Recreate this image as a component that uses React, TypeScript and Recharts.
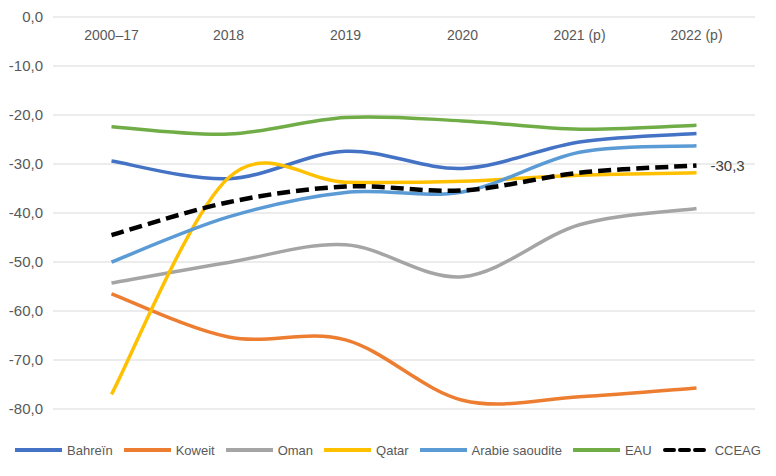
import React from 'react';
import { LineChart, Line, XAxis, YAxis, CartesianGrid, Legend, LabelList } from 'recharts';

const categories = ['2000–17', '2018', '2019', '2020', '2021 (p)', '2022 (p)'];
const bahrein = [-29.4, -33.0, -27.4, -30.9, -25.5, -23.8];
const koweit = [-56.5, -65.3, -65.9, -78.2, -77.5, -75.7];
const oman = [-54.3, -50.1, -46.5, -53.0, -42.4, -39.1];
const qatar = [-77.0, -32.8, -33.7, -33.5, -32.3, -31.8];
const arabie = [-50.0, -40.8, -35.8, -35.7, -27.6, -26.3];
const eau = [-22.4, -23.9, -20.5, -21.2, -22.9, -22.1];
const cceag = [-44.5, -37.8, -34.6, -35.4, -31.8, -30.3];
const yTicks = [0, -10, -20, -30, -40, -50, -60, -70, -80];

const seriesList = [
  { key: 'Bahreïn', values: bahrein, color: '#4472C4' },
  { key: 'Koweit', values: koweit, color: '#ED7D31' },
  { key: 'Oman', values: oman, color: '#A5A5A5' },
  { key: 'Qatar', values: qatar, color: '#FFC000' },
  { key: 'Arabie saoudite', values: arabie, color: '#5B9BD5' },
  { key: 'EAU', values: eau, color: '#70AD47' },
  { key: 'CCEAG', values: cceag, color: '#000000', dashed: true },
];

const data = categories.map((cat, i) => {
  const row: any = { cat };
  seriesList.forEach((s) => {
    row[s.key] = s.values[i];
  });
  return row;
});

const FONT = '"Liberation Sans", Arial, sans-serif';
const fmt = (v: number) => v.toFixed(1).replace('.', ',');

// Excel-like smoothed line (Catmull-Rom as cubic Bezier)
const excelCurve: any = (context: any) => {
  let pts: number[][] = [];
  return {
    areaStart() {},
    areaEnd() {},
    lineStart() {
      pts = [];
    },
    point(x: number, y: number) {
      pts.push([+x, +y]);
    },
    lineEnd() {
      const n = pts.length;
      if (!n) return;
      context.moveTo(pts[0][0], pts[0][1]);
      for (let i = 0; i < n - 1; i++) {
        const p0 = pts[Math.max(i - 1, 0)];
        const p1 = pts[i];
        const p2 = pts[i + 1];
        const p3 = pts[Math.min(i + 2, n - 1)];
        context.bezierCurveTo(
          p1[0] + (p2[0] - p0[0]) / 6,
          p1[1] + (p2[1] - p0[1]) / 6,
          p2[0] - (p3[0] - p1[0]) / 6,
          p2[1] - (p3[1] - p1[1]) / 6,
          p2[0],
          p2[1]
        );
      }
    },
  };
};

const XTick = (props: any) => {
  const { x, payload } = props;
  return (
    <text x={x} y={27} textAnchor="middle" dominantBaseline="central" fontSize={14} fill="#595959" fontFamily={FONT}>
      {payload.value}
    </text>
  );
};

const EndLabel = (props: any) => {
  const { x, y, value, index } = props;
  if (index !== cceag.length - 1) return null;
  return (
    <text x={x + 14} y={y} dominantBaseline="central" fontSize={15} fill="#404040" fontFamily={FONT}>
      {fmt(value)}
    </text>
  );
};

const LegendContent = () => (
  <div
    style={{
      display: 'flex',
      justifyContent: 'center',
      alignItems: 'center',
      gap: 11,
      fontFamily: FONT,
      fontSize: 13,
      color: '#595959',
      height: 20,
    }}
  >
    {seriesList.map((s) => (
      <div key={s.key} style={{ display: 'flex', alignItems: 'center' }}>
        <svg width={47} height={10} style={{ marginRight: 5 }}>
          <line
            x1={s.dashed ? 2 : 0}
            y1={5}
            x2={s.dashed ? 45 : 47}
            y2={5}
            stroke={s.color}
            strokeWidth={4}
            strokeDasharray={s.dashed ? '9 6' : undefined}
            strokeLinecap={s.dashed ? 'round' : 'butt'}
          />
        </svg>
        <span>{s.key}</span>
      </div>
    ))}
  </div>
);

export default function App() {
  return (
    <div style={{ width: 760, height: 460 }}>
      <LineChart width={760} height={460} data={data} margin={{ top: 9, right: 13, bottom: 59, left: 0 }}>
        <CartesianGrid vertical={false} stroke="#D9D9D9" strokeWidth={1} />
        <XAxis
          dataKey="cat"
          orientation="top"
          mirror
          height={30}
          axisLine={false}
          tickLine={false}
          tick={<XTick />}
          padding={{ left: 58.5, right: 58.5 }}
          interval={0}
        />
        <YAxis
          domain={[-80, 0]}
          ticks={yTicks}
          width={45}
          axisLine={false}
          tickLine={false}
          tickSize={0}
          tickMargin={10}
          tickFormatter={fmt}
          tick={{ fontSize: 15, fill: '#595959', fontFamily: FONT }}
          interval={0}
        />
        {seriesList.map((s) => (
          <Line
            key={s.key}
            dataKey={s.key}
            type={excelCurve}
            stroke={s.color}
            strokeWidth={s.dashed ? 4.5 : 3.5}
            strokeDasharray={s.dashed ? '13 6' : undefined}
            dot={false}
            activeDot={false}
            isAnimationActive={false}
          >
            {s.dashed ? <LabelList dataKey={s.key} content={<EndLabel />} /> : null}
          </Line>
        ))}
        <Legend
          verticalAlign="middle"
          align="center"
          layout="horizontal"
          wrapperStyle={{ top: 432, left: 0, width: 760, height: 20 }}
          content={<LegendContent />}
        />
      </LineChart>
    </div>
  );
}
